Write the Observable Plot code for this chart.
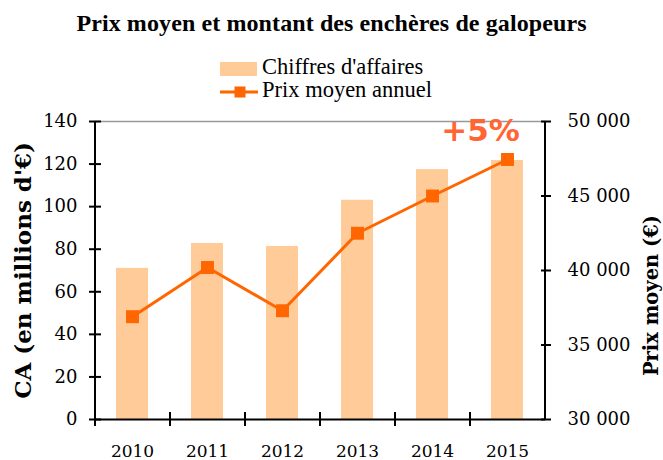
<!DOCTYPE html>
<html>
<head>
<meta charset="utf-8">
<script src="https://cdn.jsdelivr.net/npm/d3@7"></script>
<script src="https://cdn.jsdelivr.net/npm/@observablehq/plot@0.6"></script>
<style>
  body { margin: 0; background: white; }
  #wrap { position: relative; width: 663px; height: 460px; overflow: hidden; background: white; }
  .title { position: absolute; left: 0; width: 663px; top: 11px; text-align: center;
           font: bold 24px "Liberation Serif", serif; line-height: 24px; letter-spacing: 0.1px; color: #000; }
  .leg { position: absolute; font: 22.5px "Liberation Serif", serif; line-height: 20px; color: #000; white-space: nowrap; }
  #chart { position: absolute; left: 0; top: 105px; }
</style>
</head>
<body>
<div id="wrap">
  <div class="title" id="title"></div>
  <div id="sw1" style="position:absolute;left:220px;top:62px;width:37px;height:14px;"></div>
  <div class="leg" id="leg1" style="left:262px;top:57px;"></div>
  <svg id="sw2" style="position:absolute;left:220px;top:85px;" width="38" height="14">
    <line x1="0" x2="38" y1="7" y2="7" stroke-width="3"></line>
    <rect x="14.5" y="1.5" width="11" height="11"></rect>
  </svg>
  <div class="leg" id="leg2" style="left:262px;top:79.5px;"></div>
  <div id="chart"></div>
</div>
<script>
// ---- data ----
const title = "Prix moyen et montant des enchères de galopeurs";
const seriesBar = "Chiffres d'affaires";
const seriesLine = "Prix moyen annuel";
const leftTitle = "CA (en millions d'€)";
const rightTitle = "Prix moyen (€)";
const annotation = "+5%";
const years = [2010, 2011, 2012, 2013, 2014, 2015];
const caValues = [71, 82.7, 81.3, 103, 117.4, 121.7];
const prixValues = [36900, 40200, 37300, 42500, 45000, 47450];
const leftTicks = [0, 20, 40, 60, 80, 100, 120, 140];
const rightTicks = [30000, 35000, 40000, 45000, 50000];

const barColor = "#FFCC99";
const lineColor = "#FF6600";

document.getElementById("title").textContent = title;
document.getElementById("leg1").textContent = seriesBar;
document.getElementById("leg2").textContent = seriesLine;
document.getElementById("sw1").style.background = barColor;
document.querySelector("#sw2 line").setAttribute("stroke", lineColor);
document.querySelector("#sw2 rect").setAttribute("fill", lineColor);

// ---- mapping of right axis onto left domain ----
const rMin = rightTicks[0], rMax = rightTicks[rightTicks.length - 1];
const lMax = leftTicks[leftTicks.length - 1];
const toLeft = p => (p - rMin) / (rMax - rMin) * lMax;
const fromLeft = v => Math.round(rMin + v / lMax * (rMax - rMin));
const fmt = d3.formatLocale({decimal: ",", thousands: "\u00a0", grouping: [3], currency: ["", "€"]}).format(",d");

const data = years.map((y, i) => ({year: String(y), ca: caValues[i], prix: prixValues[i]}));
const last = data[data.length - 1];

const chart = Plot.plot({
  width: 663,
  height: 355,
  marginTop: 16,
  marginBottom: 41,
  marginLeft: 95,
  marginRight: 118,
  style: {fontFamily: "DejaVu Serif", fontSize: "17px", background: "white", color: "black", overflow: "visible"},
  x: {type: "band", domain: years.map(String), paddingInner: 0.57, paddingOuter: 0.285, align: 0.5},
  y: {domain: [0, lMax]},
  marks: [
    Plot.barY(data, {x: "year", y: "ca", fill: barColor}),
    // frame lines
    Plot.ruleY([lMax], {stroke: "#999", strokeWidth: 1.5}),
    Plot.ruleY([0], {stroke: "black", strokeWidth: 2}),
    Plot.ruleX([years[0]].map(String), {dx: -37.5, stroke: "black", strokeWidth: 2}),
    Plot.ruleX([years[years.length - 1]].map(String), {dx: 37.5, stroke: "black", strokeWidth: 2}),
    // left axis: crossing ticks + labels
    Plot.axisY(leftTicks, {anchor: "left", tickSize: 12, dx: 6, tickFormat: () => "", strokeWidth: 2, label: null}),
    Plot.axisY(leftTicks, {anchor: "left", tickSize: 0, tickPadding: 18, label: null, fontSize: 18}),
    // right axis
    Plot.axisY(rightTicks.map(toLeft), {anchor: "right", tickSize: 10, dx: -5, tickFormat: () => "", strokeWidth: 2, label: null}),
    Plot.axisY(rightTicks.map(toLeft), {anchor: "right", tickSize: 0, tickPadding: 22, tickFormat: v => fmt(fromLeft(v)), label: null, fontSize: 18}),
    // x axis: ticks at band edges, labels at centers
    Plot.axisX(years.map(String), {anchor: "bottom", tickSize: 14, dx: -37.5, dy: -7, tickFormat: () => "", strokeWidth: 2, label: null}),
    Plot.axisX(years.map(String), {anchor: "bottom", tickSize: 0, tickPadding: 25, label: null, fontSize: 17}),
    // line + markers
    Plot.line(data, {x: "year", y: d => toLeft(d.prix), stroke: lineColor, strokeWidth: 3}),
    Plot.dot(data, {x: "year", y: d => toLeft(d.prix), symbol: "square", r: 7.3, fill: lineColor, stroke: "none"}),
    // annotation
    Plot.text([last], {x: "year", y: d => toLeft(d.prix), text: () => annotation, dx: -27, dy: -28,
      fill: "#FF6633", fontWeight: "bold", fontSize: 31, fontFamily: "DejaVu Sans"}),
    // axis titles
    Plot.text([leftTitle], {frameAnchor: "left", textAnchor: "middle", rotate: -90, dx: -72, text: d => d, fontWeight: "bold", fontSize: 23}),
    Plot.text([rightTitle], {frameAnchor: "right", textAnchor: "middle", rotate: -90, dx: 106, dy: 25, text: d => d, fontWeight: "bold", fontSize: 19.5})
  ]
});
document.getElementById("chart").appendChild(chart);
</script>
</body>
</html>
